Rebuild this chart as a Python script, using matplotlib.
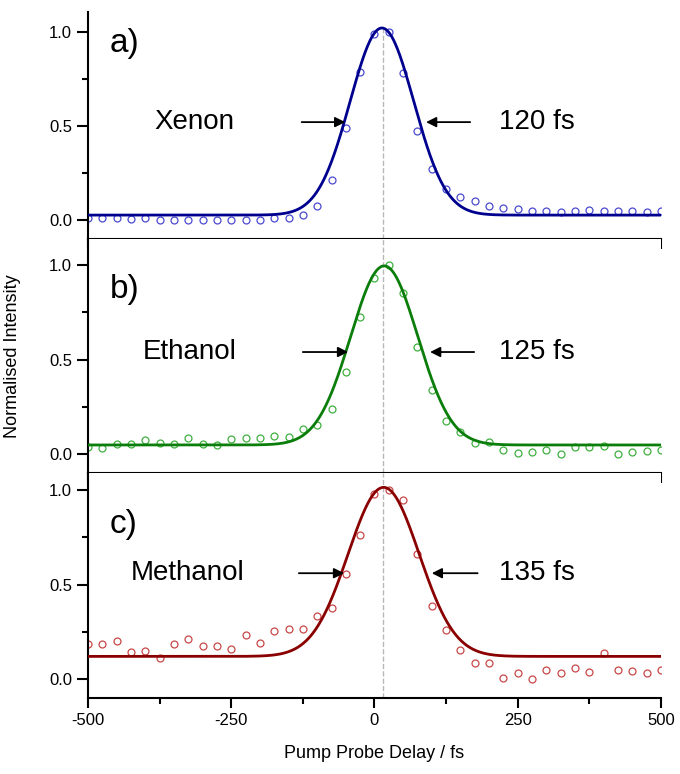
import numpy as np
import matplotlib
matplotlib.use("Agg")
import matplotlib.pyplot as plt
from matplotlib.ticker import MultipleLocator

plt.rcParams['font.family'] = ['Liberation Sans', 'DejaVu Sans']
plt.rcParams['axes.unicode_minus'] = False

# delay axis of the measured points (fs)
delay = np.arange(-500, 501, 25)

xenon = [0.01, 0.01, 0.01, 0.005, 0.01, 0.0, 0.0, 0.0, 0.0, 0.0, 0.0, 0.0, 0.0, 0.01, 0.01,
         0.025, 0.075, 0.215, 0.49, 0.787, 0.99, 1.0, 0.78, 0.475, 0.27, 0.167, 0.12, 0.10,
         0.077, 0.065, 0.06, 0.05, 0.048, 0.042, 0.048, 0.055, 0.048, 0.046, 0.05, 0.042, 0.046]
ethanol = [0.037, 0.035, 0.056, 0.056, 0.076, 0.06, 0.055, 0.086, 0.055, 0.048, 0.083, 0.085,
           0.085, 0.099, 0.09, 0.134, 0.155, 0.24, 0.437, 0.724, 0.93, 1.0, 0.854, 0.569, 0.34,
           0.176, 0.116, 0.058, 0.063, 0.025, 0.007, 0.01, 0.02, 0.002, 0.039, 0.039, 0.042,
           0.002, 0.014, 0.016, 0.023]
methanol = [0.187, 0.187, 0.2, 0.145, 0.148, 0.111, 0.185, 0.212, 0.173, 0.175, 0.159, 0.235,
            0.192, 0.252, 0.263, 0.265, 0.332, 0.374, 0.554, 0.76, 0.979, 1.0, 0.945, 0.66,
            0.386, 0.259, 0.152, 0.086, 0.083, 0.005, 0.034, 0.0, 0.048, 0.034, 0.06, 0.039,
            0.136, 0.049, 0.041, 0.032, 0.049]

# gaussian fit parameters: centre, fwhm, amplitude, offset
fit_centre = [13, 17, 16]
fit_fwhm = [131, 138, 146]
fit_amp = [0.994, 0.946, 0.894]
fit_offset = [0.026, 0.049, 0.12]

names = ['Xenon', 'Ethanol', 'Methanol']
widths = ['120 fs', '125 fs', '135 fs']
letters = ['a)', 'b)', 'c)']
series = [xenon, ethanol, methanol]
line_colors = ['#00008f', '#0a7d0a', '#8a0000']
marker_colors = ['#4a4ad0', '#40b040', '#c84848']

zero_line = 15  # dashed guide at time zero

fig = plt.figure(figsize=(6.8, 7.74), dpi=100)
boxes = [[0.1294, 0.6912, 0.8426, 0.2933],
         [0.1294, 0.3889, 0.8426, 0.3023],
         [0.1294, 0.0982, 0.8426, 0.2907]]
ylims = [(-0.101, 1.105), (-0.099, 1.137), (-0.10, 1.09)]
label_y = [0.52, 0.54, 0.56]
letter_y = [0.94, 0.87, 0.815]
arrow_left = [(-127, -51), (-125, -46), (-132, -53)]
arrow_right = [(167, 90), (174, 97), (180, 100)]

xfine = np.linspace(-500, 500, 1001)

for i in range(3):
    ax = fig.add_axes(boxes[i])
    ax.set_xlim(-500, 500)
    ax.set_ylim(*ylims[i])

    ax.axvline(zero_line, color='#b8b8b8', ls='--', lw=1.0, zorder=0,
               ymax=1.0 if i > 0 else (1.02 - ylims[0][0]) / (ylims[0][1] - ylims[0][0]))

    fit = fit_offset[i] + fit_amp[i] * np.exp(-4 * np.log(2) * (xfine - fit_centre[i]) ** 2 / fit_fwhm[i] ** 2)
    ax.plot(delay, series[i], 'o', mfc='none', mec=marker_colors[i], ms=5, mew=0.9, zorder=2)
    ax.plot(xfine, fit, color=line_colors[i], lw=2.0, zorder=3)

    y = label_y[i]
    ax.text(-385 - 20 * i, y, names[i], fontsize=20, va='center', ha='left')
    ax.text(217, y, widths[i], fontsize=20, va='center', ha='left')
    ax.annotate('', xy=(arrow_left[i][1], y), xytext=(arrow_left[i][0], y),
                arrowprops=dict(arrowstyle='-|>', color='black', lw=1.3, mutation_scale=15,
                                shrinkA=0, shrinkB=0))
    ax.annotate('', xy=(arrow_right[i][1], y), xytext=(arrow_right[i][0], y),
                arrowprops=dict(arrowstyle='-|>', color='black', lw=1.3, mutation_scale=15,
                                shrinkA=0, shrinkB=0))
    ax.text(-462, letter_y[i], letters[i], fontsize=24, va='center', ha='left')

    for s in ['top', 'right']:
        ax.spines[s].set_visible(False)
    for s in ['left', 'bottom']:
        ax.spines[s].set_linewidth(1.5)

    ax.set_yticks([0.0, 0.5, 1.0])
    ax.set_yticklabels(['0.0', '0.5', '1.0'])
    ax.yaxis.set_minor_locator(MultipleLocator(0.25))
    ax.set_xticks([-500, -250, 0, 250, 500])
    ax.xaxis.set_minor_locator(MultipleLocator(125))
    ax.tick_params(axis='both', which='major', direction='out', width=1.5, labelsize=12)
    ax.tick_params(axis='y', which='major', length=8)
    ax.tick_params(axis='y', which='minor', length=4.5, width=1.5)
    ax.tick_params(axis='x', which='major', length=7.5)
    ax.tick_params(axis='x', which='minor', length=4, width=1.5)
    if i < 2:
        ax.tick_params(axis='x', labelbottom=False)
    else:
        ax.set_xlabel('Pump Probe Delay / fs', fontsize=13, labelpad=12)

fig.text(0.018, 0.54, 'Normalised Intensity', rotation=90, fontsize=13, va='center', ha='center')

fig.savefig('out.png', dpi=100)
